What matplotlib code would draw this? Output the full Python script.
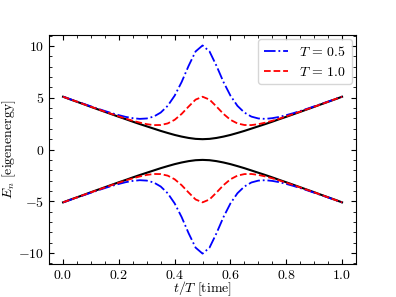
import numpy as np
import matplotlib
matplotlib.use('Agg')
import matplotlib.pyplot as plt
from matplotlib.ticker import AutoMinorLocator

plt.rcParams['font.family'] = 'serif'
plt.rcParams['font.serif'] = ['cmr10']
plt.rcParams['mathtext.fontset'] = 'cm'
plt.rcParams['axes.formatter.use_mathtext'] = True
plt.rcParams['axes.unicode_minus'] = True

# time axis t/T
t = np.linspace(0, 1, 41)

# upper branch, adiabatic eigenenergy (lower branch is its mirror)
e_adiabatic = [5.10, 4.85, 4.61, 4.37, 4.12, 3.88, 3.64, 3.40, 3.16, 2.93, 2.69,
               2.46, 2.24, 2.02, 1.80, 1.60, 1.41, 1.25, 1.12, 1.03, 1.00,
               1.03, 1.12, 1.25, 1.41, 1.60, 1.80, 2.02, 2.24, 2.46, 2.69,
               2.93, 3.16, 3.40, 3.64, 3.88, 4.12, 4.37, 4.61, 4.85, 5.10]

# T = 0.5
e_fast = [5.11, 4.87, 4.63, 4.40, 4.17, 3.94, 3.72, 3.51, 3.32, 3.15, 3.03,
          2.96, 3.00, 3.18, 3.57, 4.22, 5.20, 6.52, 8.08, 9.47, 10.05,
          9.47, 8.08, 6.52, 5.20, 4.22, 3.57, 3.18, 3.00, 2.96, 3.03,
          3.15, 3.32, 3.51, 3.72, 3.94, 4.17, 4.40, 4.63, 4.87, 5.11]

# T = 1.0
e_slow = [5.10, 4.86, 4.62, 4.37, 4.13, 3.90, 3.66, 3.43, 3.20, 2.98, 2.78,
          2.60, 2.45, 2.36, 2.37, 2.52, 2.87, 3.44, 4.15, 4.82, 5.10,
          4.82, 4.15, 3.44, 2.87, 2.52, 2.37, 2.36, 2.45, 2.60, 2.78,
          2.98, 3.20, 3.43, 3.66, 3.90, 4.13, 4.37, 4.62, 4.86, 5.10]

e_adiabatic = np.array(e_adiabatic)
e_fast = np.array(e_fast)
e_slow = np.array(e_slow)

fig = plt.figure(figsize=(3.96, 2.97), dpi=100)
ax = fig.add_axes([0.124, 0.111, 0.775, 0.771])

ax.plot(t, e_adiabatic, color='k', lw=1.5)
ax.plot(t, -e_adiabatic, color='k', lw=1.5)
ax.plot(t, e_fast, color='b', ls='-.', lw=1.3, label=r'$T\,=\,0.5$')
ax.plot(t, -e_fast, color='b', ls='-.', lw=1.3)
ax.plot(t, e_slow, color='r', ls='--', lw=1.3, label=r'$T\,=\,1.0$')
ax.plot(t, -e_slow, color='r', ls='--', lw=1.3)

ax.set_xlabel(r'$t/T\ \mathrm{[time]}$')
ax.set_ylabel(r'$E_n\ \mathrm{[eigenenergy]}$')
ax.xaxis.set_label_coords(0.5, -0.069)
ax.yaxis.set_label_coords(-0.1, 0.5)
ax.set_xticks([0.0, 0.2, 0.4, 0.6, 0.8, 1.0])
ax.set_yticks([-10, -5, 0, 5, 10])
ax.xaxis.set_minor_locator(AutoMinorLocator())
ax.yaxis.set_minor_locator(AutoMinorLocator())
ax.tick_params(which='both', direction='in', top=True, right=True)
ax.legend(loc='upper right', handlelength=1.75, borderaxespad=0.3)

fig.savefig('out.png', dpi=100)
